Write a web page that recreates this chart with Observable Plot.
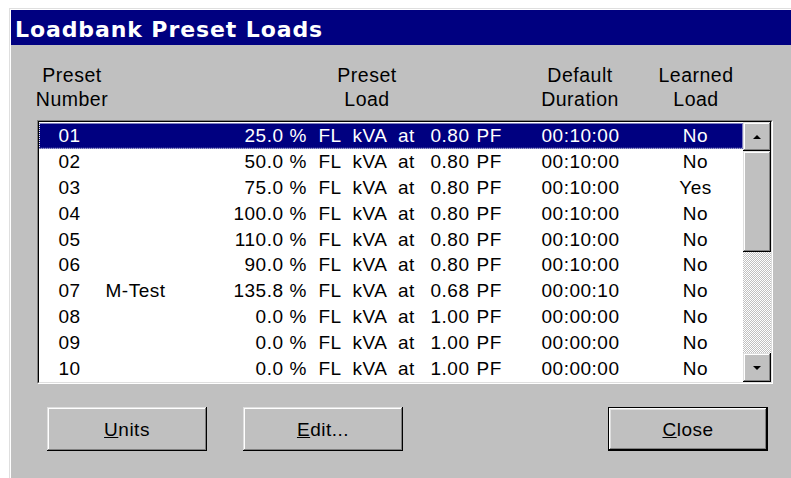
<!DOCTYPE html>
<html>
<head>
<meta charset="utf-8">
<script src="https://cdn.jsdelivr.net/npm/d3@7"></script>
<script src="https://cdn.jsdelivr.net/npm/@observablehq/plot@0.6"></script>
<style>
  body { margin: 0; background: #fff; }
  #root { position: relative; width: 791px; height: 478px; overflow: hidden;
          font-family: "Liberation Sans", Arial, sans-serif; font-size: 19px; color: #000; letter-spacing: 0.5px; }
  .abs { position: absolute; }
  .dlg { left: 9px; top: 8px; width: 782px; height: 470px; background: #c0c0c0;
         box-shadow: inset 1px 1px #dfdfdf, inset 2px 2px #fff; }
  .titlebar { left: 11px; top: 10px; width: 780px; height: 35px; background: #000080; }
  .title { left: 15px; top: 12px; color: #fff; font-family: "DejaVu Sans", sans-serif; font-weight: bold;
           font-size: 22px; line-height: 35px; letter-spacing: 0.9px; white-space: nowrap; }
  .hdr { text-align: center; line-height: 24px; white-space: nowrap; font-size: 19.5px; }
  .field { left: 37px; top: 120px; width: 736px; height: 264px; box-sizing: border-box;
           border: 1px solid; border-color: #808080 #fff #fff #808080; }
  .field > .inner { position: absolute; left: 0; top: 0; right: 0; bottom: 0;
           border: 1px solid; border-color: #000 #dfdfdf #dfdfdf #000; background: #fff; }
  .raised { background: #c0c0c0; box-sizing: border-box;
            box-shadow: inset -1px -1px #000, inset 1px 1px #dfdfdf, inset -2px -2px #808080, inset 2px 2px #fff; }
  .track { background-color: #c0c0c0;
           background-image: repeating-conic-gradient(#fff 0 25%, #c0c0c0 0 50%);
           background-size: 2px 2px; }
  .btn { display: flex; align-items: center; justify-content: center; padding-top: 1px; }
  .tri-up { width: 0; height: 0; border-left: 4px solid transparent; border-right: 4px solid transparent; border-bottom: 4px solid #000; }
  .tri-dn { width: 0; height: 0; border-left: 4px solid transparent; border-right: 4px solid transparent; border-top: 4px solid #000; }
  .def { border: 1px solid #000;
         box-shadow: inset -1px -1px #000, inset 1px 1px #fff, inset -2px -2px #808080, inset 2px 2px #dfdfdf; }
</style>
</head>
<body>
<div id="root">
  <div class="abs dlg"></div>
  <div class="abs titlebar"></div>
  <div class="abs title" id="title"></div>
  <div id="headers"></div>
  <div class="abs field"><div class="inner"></div></div>
  <div class="abs" id="list" style="left:39px;top:122px;width:704px;height:260px;overflow:hidden;"></div>
  <div class="abs raised btn" style="left:743px;top:122px;width:28px;height:29px;"><div class="tri-up"></div></div>
  <div class="abs raised" style="left:743px;top:151px;width:28px;height:101px;"></div>
  <div class="abs track" style="left:743px;top:252px;width:28px;height:101px;"></div>
  <div class="abs raised btn" style="left:743px;top:353px;width:28px;height:29px;"><div class="tri-dn"></div></div>
  <div class="abs raised btn" style="left:47px;top:407px;width:160px;height:44px;"><span><u>U</u>nits</span></div>
  <div class="abs raised btn" style="left:243px;top:407px;width:160px;height:44px;"><span><u>E</u>dit...</span></div>
  <div class="abs btn def" style="left:608px;top:407px;width:160px;height:44px;box-sizing:border-box;background:#c0c0c0;"><span><u>C</u>lose</span></div>
</div>
<script>
// ---- data ----
const dialogTitle = "Loadbank Preset Loads";
const headerLines = [["Preset", "Number"], ["Preset", "Load"], ["Default", "Duration"], ["Learned", "Load"]];
const presetNumbers = ["01", "02", "03", "04", "05", "06", "07", "08", "09", "10"];
const presetNames = ["", "", "", "", "", "", "M-Test", "", "", ""];
const loadPercent = [25.0, 50.0, 75.0, 100.0, 110.0, 90.0, 135.8, 0.0, 0.0, 0.0];
const powerFactor = [0.80, 0.80, 0.80, 0.80, 0.80, 0.80, 0.68, 1.00, 1.00, 1.00];
const durations = ["00:10:00", "00:10:00", "00:10:00", "00:10:00", "00:10:00", "00:10:00", "00:00:10", "00:00:00", "00:00:00", "00:00:00"];
const learnedLoad = ["No", "No", "Yes", "No", "No", "No", "No", "No", "No", "No"];
const selectedPreset = "01";

// ---- layout (pixels) ----
const headerCenters = [72, 367, 580, 696];
const colX = { num: 19, name: 66, pct: 244, unit: 250, pf: 430, pfu: 437, dur: 541, learned: 656 };

document.getElementById("title").textContent = dialogTitle;
const hdr = document.getElementById("headers");
headerLines.forEach((lines, i) => {
  const d = document.createElement("div");
  d.className = "abs hdr";
  d.style.left = (headerCenters[i] - 70) + "px";
  d.style.width = "140px";
  d.style.top = "63px";
  d.innerHTML = lines.join("<br>");
  hdr.appendChild(d);
});

const rows = presetNumbers.map((n, i) => ({
  num: n, name: presetNames[i], pct: loadPercent[i].toFixed(1), pf: powerFactor[i].toFixed(2),
  dur: durations[i], learned: learnedLoad[i]
}));
const ink = d => d.num === selectedPreset ? "#fff" : "#000";
const at = k => () => colX[k];

const chart = Plot.plot({
  width: 704, height: 260,
  marginTop: 0, marginBottom: 0, marginLeft: 0, marginRight: 0,
  x: { type: "identity", axis: null },
  y: { type: "band", domain: presetNumbers, range: [1, 259], padding: 0, round: false, axis: null },
  style: { fontFamily: "'Liberation Sans', Arial, sans-serif", fontSize: "19px", letterSpacing: "0.5px", background: "#fff" },
  marks: [
    Plot.cell(rows.filter(d => d.num === selectedPreset), { y: "num", fill: "#000080" }),
    Plot.cell(rows.filter(d => d.num === selectedPreset), { y: "num", fill: "none", stroke: "#fff", strokeDasharray: "1,1", inset: 0.5 }),
    Plot.text(rows, { x: at("num"), y: "num", text: "num", textAnchor: "start", fill: ink }),
    Plot.text(rows, { x: at("name"), y: "num", text: "name", textAnchor: "start", fill: ink }),
    Plot.text(rows, { x: at("pct"), y: "num", text: "pct", textAnchor: "end", fill: ink }),
    Plot.text(rows, { x: at("unit"), y: "num", text: () => "%  FL  kVA  at", textAnchor: "start", fill: ink }),
    Plot.text(rows, { x: at("pf"), y: "num", text: "pf", textAnchor: "end", fill: ink }),
    Plot.text(rows, { x: at("pfu"), y: "num", text: () => "PF", textAnchor: "start", fill: ink }),
    Plot.text(rows, { x: at("dur"), y: "num", text: "dur", fill: ink }),
    Plot.text(rows, { x: at("learned"), y: "num", text: "learned", fill: ink })
  ]
});
document.getElementById("list").appendChild(chart);
</script>
</body>
</html>
